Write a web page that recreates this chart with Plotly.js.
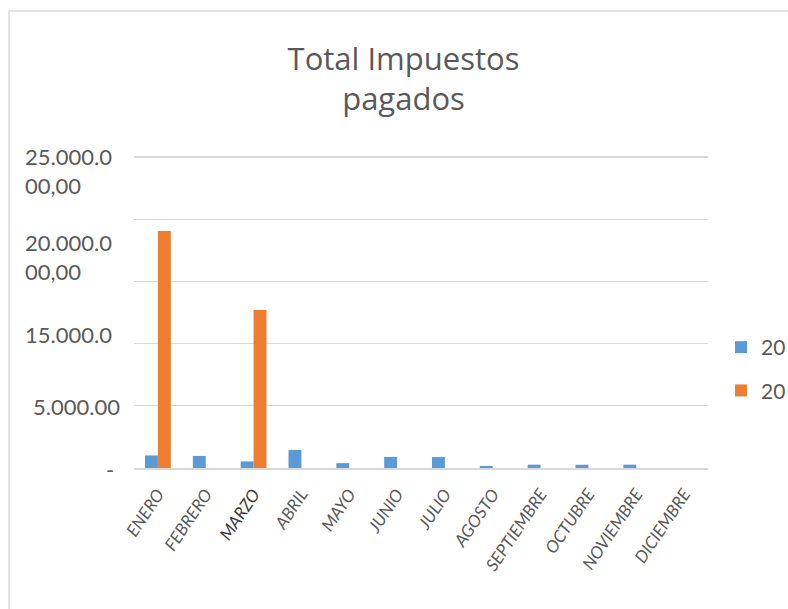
<!DOCTYPE html>
<html>
<head>
<meta charset="utf-8">
<script src="https://cdn.plot.ly/plotly-3.0.1.min.js"></script>
<style>html,body{margin:0;padding:0;background:#fff;}#chart{width:788px;height:609px;}</style>
</head>
<body>
<div id="chart"></div>
<script>
const meses = ["ENERO","FEBRERO","MARZO","ABRIL","MAYO","JUNIO","JULIO","AGOSTO","SEPTIEMBRE","OCTUBRE","NOVIEMBRE","DICIEMBRE"];
const serie1Nombre = "20";
const serie2Nombre = "20";
const serie1 = [1010000, 970000, 530000, 1450000, 390000, 890000, 880000, 160000, 270000, 260000, 270000, 0];
const serie2 = [19050000, 0, 12700000, 0, 0, 0, 0, 0, 0, 0, 0, 0];
const ejeValores = [0, 5000000, 10000000, 15000000, 20000000, 25000000];
const ejeEtiquetas = ["25.000.0<br>00,00", "20.000.0<br>00,00", "15.000.0", "5.000.00", "-"];

// layout geometry (pixels)
const L = 134, R = 708, T = 151, B = 468, W = 788, H = 609;
const pxPerUnit = (468 - 157) / 25000000;
const yTop = (B - T) / pxPerUnit;
const px2x = p => (p - L) / (R - L);
const py2y = p => (B - p) / (B - T);

// visual placement of the Excel-style wrapped axis labels (pixel positions)
const labelPos = [
  {x: 23, y: 171}, {x: 23, y: 257}, {x: 23, y: 334}, {x: 31, y: 406.5}, {x: 104, y: 469}
];

const fontFam = "Lato, 'Open Sans', sans-serif";
const grey = "#595959";

const annotations = ejeEtiquetas.map((t, i) => ({
  xref: "paper", yref: "paper",
  x: px2x(labelPos[i].x), y: py2y(labelPos[i].y),
  xanchor: "left", yanchor: "middle", align: "left",
  text: t, showarrow: false,
  font: {family: fontFam, size: 22, color: grey}
}));

const tickText = meses.map(m => m === "MARZO" ? '<span style="fill:#3a3a3a">' + m + '</span>' : m);

const data = [
  {type: "bar", x: meses, y: serie1, name: serie1Nombre, marker: {color: "#5b9bd5"}, legendgroup: "a"},
  {type: "bar", x: meses, y: serie2, name: serie2Nombre, marker: {color: "#ed7d31"}, legendgroup: "b"}
];

const layout = {
  width: W, height: H,
  paper_bgcolor: "#ffffff", plot_bgcolor: "#ffffff",
  margin: {l: L, r: W - R, t: T, b: H - B, pad: 0, autoexpand: false},
  font: {family: fontFam, color: grey},
  title: {
    text: "Total Impuestos<br>pagados",
    font: {family: "'Open Sans', Lato, sans-serif", size: 31, color: grey},
    xref: "container", yref: "container",
    x: 403.5 / W, xanchor: "center",
    y: 1 - 70 / H, yanchor: "middle"
  },
  barmode: "group",
  bargap: 0.46,
  bargroupgap: 0,
  xaxis: {
    type: "category",
    tickvals: meses, ticktext: tickText,
    tickangle: -56,
    tickfont: {family: fontFam, size: 17, color: grey, style: "italic"},
    ticklabelstandoff: 8,
    showgrid: false, zeroline: false,
    showline: true, linecolor: "#d9d9d9", linewidth: 1.5,
    ticks: "", fixedrange: true
  },
  yaxis: {
    range: [0, yTop],
    tickvals: ejeValores,
    showticklabels: false,
    showgrid: true, gridcolor: "#d9d9d9", gridwidth: 1.3,
    zeroline: false, showline: false, ticks: "", fixedrange: true
  },
  legend: {
    x: px2x(721), xanchor: "left",
    y: py2y(369), yanchor: "middle",
    font: {family: fontFam, size: 21, color: grey},
    traceorder: "grouped",
    tracegroupgap: 13,
    itemwidth: 30,
    bgcolor: "rgba(0,0,0,0)"
  },
  annotations: annotations,
  shapes: [{
    type: "rect", xref: "paper", yref: "paper",
    x0: px2x(9), x1: px2x(900), y0: py2y(700), y1: py2y(11),
    line: {color: "#d9d9d9", width: 1.5}, fillcolor: "rgba(0,0,0,0)", layer: "below"
  }]
};

Plotly.newPlot("chart", data, layout, {displayModeBar: false, staticPlot: true});
</script>
</body>
</html>
